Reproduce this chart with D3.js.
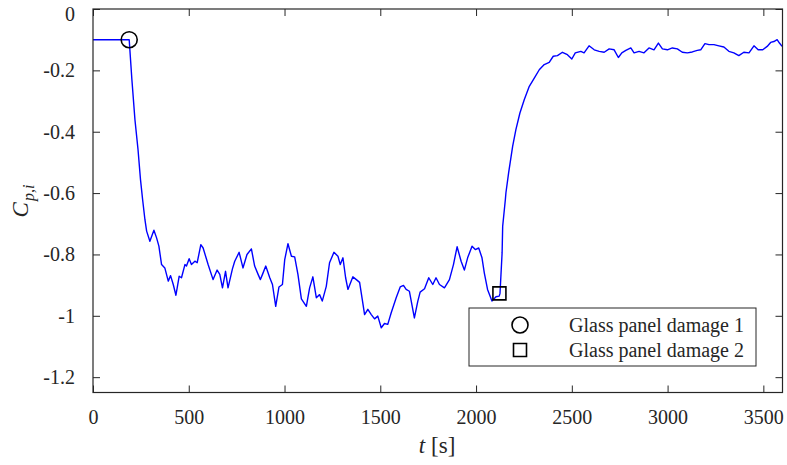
<!DOCTYPE html>
<html>
<head>
<meta charset="utf-8">
<script src="https://cdn.jsdelivr.net/npm/d3@7"></script>
<style>
  html, body { margin: 0; padding: 0; background: #fff; }
  svg { display: block; }
  svg text { font-family: "Liberation Serif", "Times New Roman", serif !important; fill: #262626; }
</style>
</head>
<body>
<svg id="chart" width="787" height="465" font-family="Liberation Serif"></svg>
<script>
// Time axis samples [s]
const timeS = [
  0, 189, 203, 219, 235, 248, 259, 271, 280, 297, 318, 332, 344, 358, 375, 393, 405, 419, 433, 450,
  462, 480, 488, 502, 514, 532, 544, 563, 575, 601, 627, 648, 662, 676, 692, 705, 728, 740, 763, 783,
  804, 827, 844, 862, 874, 885, 902, 923, 937, 954, 971, 989, 1001, 1018, 1036, 1053, 1070, 1088, 1114, 1131,
  1148, 1166, 1183, 1197, 1218, 1235, 1258, 1279, 1291, 1305, 1319, 1331, 1357, 1375, 1392, 1406, 1418, 1435, 1453, 1470,
  1487, 1505, 1522, 1539, 1557, 1583, 1604, 1621, 1635, 1652, 1678, 1696, 1708, 1731, 1753, 1774, 1791, 1809, 1835, 1861,
  1882, 1901, 1922, 1939, 1956, 1979, 1996, 2014, 2031, 2043, 2060, 2083, 2104, 2121, 2125, 2136, 2139, 2153, 2156, 2170,
  2191, 2208, 2229, 2252, 2278, 2304, 2330, 2356, 2382, 2403, 2425, 2451, 2477, 2500, 2518, 2547, 2564, 2590, 2617, 2643,
  2669, 2695, 2721, 2743, 2761, 2782, 2808, 2825, 2851, 2877, 2903, 2929, 2952, 2973, 2999, 3025, 3051, 3077, 3103, 3129,
  3155, 3173, 3195, 3216, 3242, 3268, 3294, 3320, 3346, 3372, 3398, 3425, 3451, 3473, 3497, 3520, 3538, 3555, 3572, 3584,
  3598
];

// Internal pressure coefficient C_p,i
const cpi = [
  -0.100, -0.100, -0.230, -0.361, -0.458, -0.556, -0.621, -0.686, -0.724, -0.757, -0.721, -0.746, -0.773, -0.833, -0.844, -0.887, -0.869, -0.898, -0.933, -0.871,
  -0.876, -0.833, -0.838, -0.814, -0.833, -0.822, -0.827, -0.768, -0.779, -0.833, -0.882, -0.851, -0.865, -0.909, -0.855, -0.909, -0.847, -0.822, -0.793, -0.844,
  -0.800, -0.782, -0.838, -0.865, -0.882, -0.865, -0.838, -0.876, -0.898, -0.969, -0.906, -0.898, -0.817, -0.765, -0.806, -0.808, -0.865, -0.945, -0.969, -0.909,
  -0.873, -0.941, -0.931, -0.952, -0.904, -0.827, -0.793, -0.806, -0.833, -0.811, -0.876, -0.914, -0.873, -0.882, -0.891, -0.947, -0.996, -0.979, -0.996, -1.010,
  -1.001, -1.039, -1.025, -1.028, -0.990, -0.941, -0.906, -0.901, -0.914, -0.920, -1.007, -0.952, -0.923, -0.912, -0.876, -0.898, -0.876, -0.898, -0.909, -0.882,
  -0.833, -0.775, -0.822, -0.851, -0.811, -0.773, -0.784, -0.779, -0.811, -0.860, -0.914, -0.952, -0.938, -0.936, -0.927, -0.795, -0.708, -0.621, -0.599, -0.534,
  -0.448, -0.393, -0.339, -0.295, -0.252, -0.225, -0.198, -0.181, -0.174, -0.154, -0.152, -0.141, -0.149, -0.163, -0.143, -0.138, -0.143, -0.120, -0.133, -0.138,
  -0.141, -0.130, -0.133, -0.158, -0.143, -0.135, -0.127, -0.143, -0.138, -0.143, -0.127, -0.133, -0.111, -0.130, -0.133, -0.127, -0.130, -0.141, -0.143, -0.140,
  -0.135, -0.133, -0.113, -0.116, -0.116, -0.120, -0.124, -0.138, -0.143, -0.152, -0.141, -0.143, -0.120, -0.133, -0.133, -0.122, -0.109, -0.106, -0.100, -0.111,
  -0.122
];

// Damage events
const eventNames = ["Glass panel damage 1", "Glass panel damage 2"];
const eventTime = [189, 2122];
const eventCp = [-0.100, -0.927];
const eventSymbols = ["circle", "square"];

// Axis ticks
const xTicks = [0, 500, 1000, 1500, 2000, 2500, 3000, 3500];
const yTicks = [0, -0.2, -0.4, -0.6, -0.8, -1, -1.2];

const FONT = "Liberation Serif, Times New Roman, serif";
const svg = d3.select("#chart");
const margin = { left: 93, right: 4.5, top: 9, bottom: 72.5 };
const W = 787, H = 465;
const x = d3.scaleLinear().domain([0, 3600]).range([margin.left, W - margin.right]);
const y = d3.scaleLinear().domain([-1.25, 0]).range([H - margin.bottom, margin.top]);
const axisColor = "#262626";
const tickLen = 7;

const fmtY = d => (d === 0 ? "0" : String(+d.toFixed(1)));

// Data line
const series = timeS.map((t, i) => ({ t, v: cpi[i] }));
svg.append("path")
  .datum(series)
  .attr("fill", "none")
  .attr("stroke", "#0000ff")
  .attr("stroke-width", 1.4)
  .attr("stroke-linejoin", "round")
  .attr("d", d3.line().x(d => x(d.t)).y(d => y(d.v)));

// Axes: ticks pointing inward, mirrored on top and right
function styleAxis(g) {
  g.attr("font-family", FONT);
  g.select(".domain").remove();
  g.selectAll(".tick line").attr("stroke", axisColor).attr("stroke-width", 1);
  g.selectAll(".tick text").style("font-size", "20px").style("font-family", FONT).attr("fill", axisColor);
}
svg.append("g")
  .attr("transform", `translate(0,${y.range()[0]})`)
  .call(d3.axisBottom(x).tickValues(xTicks).tickSizeInner(-tickLen).tickSizeOuter(0).tickPadding(17).tickFormat(d3.format("d")))
  .call(styleAxis);
svg.append("g")
  .attr("transform", `translate(0,${y.range()[1]})`)
  .call(d3.axisTop(x).tickValues(xTicks).tickSizeInner(-tickLen).tickSizeOuter(0).tickFormat(""))
  .call(styleAxis);
const yAxisG = svg.append("g")
  .attr("transform", `translate(${x.range()[0]},0)`)
  .call(d3.axisLeft(y).tickValues(yTicks).tickSizeInner(-tickLen).tickSizeOuter(0).tickPadding(18).tickFormat(fmtY))
  .call(styleAxis);
// keep the top label inside the canvas
yAxisG.selectAll(".tick text").filter(d => d === 0).attr("dy", "0.55em");
svg.append("g")
  .attr("transform", `translate(${x.range()[1]},0)`)
  .call(d3.axisRight(y).tickValues(yTicks).tickSizeInner(-tickLen).tickSizeOuter(0).tickFormat(""))
  .call(styleAxis);

// Plot frame
svg.append("rect")
  .attr("x", x.range()[0]).attr("y", y.range()[1])
  .attr("width", x.range()[1] - x.range()[0])
  .attr("height", y.range()[0] - y.range()[1])
  .attr("fill", "none").attr("stroke", axisColor).attr("stroke-width", 1.2);

// Event markers
const sym = {
  circle: d3.symbol().type(d3.symbolCircle).size(Math.PI * 8 * 8),
  square: d3.symbol().type(d3.symbolSquare).size(13 * 13)
};
eventTime.forEach((t, i) => {
  svg.append("path")
    .attr("d", sym[eventSymbols[i]]())
    .attr("transform", `translate(${x(t)},${y(eventCp[i])})`)
    .attr("fill", "none").attr("stroke", "#000").attr("stroke-width", 1.6);
});

// Legend
const lg = svg.append("g").attr("transform", "translate(469,308)");
lg.append("rect").attr("width", 287).attr("height", 58)
  .attr("fill", "#fff").attr("stroke", axisColor).attr("stroke-width", 1);
eventNames.forEach((name, i) => {
  const cy = 17 + i * 25;
  lg.append("path")
    .attr("d", sym[eventSymbols[i]]())
    .attr("transform", `translate(51,${cy})`)
    .attr("fill", "none").attr("stroke", "#000").attr("stroke-width", 1.6);
  lg.append("text").attr("x", 100).attr("y", cy + 6.5)
    .style("font-size", "20px").style("font-family", FONT).text(name);
});

// Axis titles
const xt = svg.append("text").attr("x", 437).attr("y", 453)
  .attr("text-anchor", "middle").style("font-size", "23px").style("font-family", FONT);
xt.append("tspan").style("font-style", "italic").text("t");
xt.append("tspan").attr("dx", 6).text("[s]");

const yt = svg.append("text").attr("transform", "translate(28,201) rotate(-90)")
  .attr("text-anchor", "middle").style("font-size", "23px").style("font-family", FONT);
yt.append("tspan").style("font-style", "italic").text("C");
yt.append("tspan").attr("dy", 6).attr("dx", 1).style("font-size", "16px").style("font-style", "italic").text("p,i");
</script>
</body>
</html>
